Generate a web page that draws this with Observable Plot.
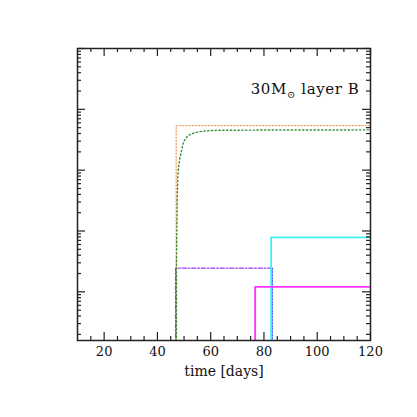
<!DOCTYPE html>
<html><head><meta charset="utf-8">
<script src="https://cdn.jsdelivr.net/npm/d3@7"></script>
<script src="https://cdn.jsdelivr.net/npm/@observablehq/plot@0.6"></script>
<style>body{margin:0;background:#fff;}</style>
</head><body><div id="chart"></div>
<script>
// ---- text ----
const titleText = "30M⊙ layer B";
const xLabel = "time [days]";
// ---- ticks ----
const xTickLabels = [20, 40, 60, 80, 100, 120];
const xMinorTicks = [15, 25, 30, 35, 45, 50, 55, 65, 70, 75, 85, 90, 95, 105, 110, 115];
const yMajorTicks = [1e-4, 1e-3, 1e-2, 1e-1, 1];
const yMinorTicks = [];
for (const p of [-5, -4, -3, -2, -1]) for (const k of [2,3,4,5,6,7,8,9]) {
  const v = k * Math.pow(10, p);
  if (v > Math.pow(10, -4.8) && v < 1) yMinorTicks.push(v);
}
// ---- series (time in days, value arbitrary log units) ----
const orangeT = [47.05, 47.05, 120];
const orangeV = [1e-6, 0.0541, 0.0541];
const greenT = [47.1, 47.17, 47.28, 47.43, 47.65, 47.92, 48.4, 49.0, 49.79, 51.03, 52.31, 54.19, 56.66, 60.42, 62.67, 80, 120];
const greenV = [1e-6, 3.49e-4, 9.02e-4, 3.15e-3, 7.60e-3, 0.0111, 0.0155, 0.0202, 0.0291, 0.0352, 0.0388, 0.0414, 0.0436, 0.0447, 0.0452, 0.0457, 0.0459];
const purpleT = [46.85, 46.85, 83.0];
const purpleV = [1e-6, 2.45e-4, 2.45e-4];
const blueT = [83.1, 83.1];
const blueV = [2.45e-4, 1e-6];
const cyanT = [82.7, 82.7, 120];
const cyanV = [1e-6, 7.83e-4, 7.83e-4];
const magentaT = [76.7, 76.7, 120];
const magentaV = [1e-6, 1.21e-4, 1.21e-4];

const toRows = (T, V) => T.map((t, i) => ({t, v: V[i]}));

const W = 417, H = 417, mL = 77, mR = 47, mT = 48, mB = 77;
const plotH = H - mT - mB, plotW = W - mL - mR;
const axisColor = "#222";

const chart = Plot.plot({
  width: W, height: H,
  marginLeft: mL, marginRight: mR, marginTop: mT, marginBottom: mB,
  style: {fontFamily: "DejaVu Serif", background: "#fff", color: "#111"},
  x: {domain: [10, 120], axis: null},
  y: {type: "log", domain: [Math.pow(10, -4.8), 1], axis: null},
  marks: [
    Plot.line(toRows(orangeT, orangeV), {x: "t", y: "v", stroke: "#f4a46a", strokeWidth: 1.3, strokeDasharray: "1.2,2", clip: true}),
    Plot.line(toRows(purpleT, purpleV), {x: "t", y: "v", stroke: "#9a3cf5", strokeWidth: 1.4, strokeDasharray: "4,2,1.5,2", clip: true}),
    Plot.line(toRows(blueT, blueV), {x: "t", y: "v", stroke: "#3050ff", strokeWidth: 1.3, strokeDasharray: "1.5,1.5", clip: true}),
    Plot.line(toRows(greenT, greenV), {x: "t", y: "v", stroke: "#358f35", strokeWidth: 1.4, strokeDasharray: "1.3,2.5", clip: true}),
    Plot.line(toRows(cyanT, cyanV), {x: "t", y: "v", stroke: "#40f0f0", strokeWidth: 1.8, clip: true}),
    Plot.line(toRows(magentaT, magentaV), {x: "t", y: "v", stroke: "#ff33ff", strokeWidth: 1.8, clip: true}),
    // ticks, inward on all sides
    Plot.ruleX(xTickLabels, {x: d => d, insetTop: plotH - 8, stroke: axisColor, strokeWidth: 1.2}),
    Plot.ruleX(xTickLabels, {x: d => d, insetBottom: plotH - 8, stroke: axisColor, strokeWidth: 1.2}),
    Plot.ruleX(xMinorTicks, {x: d => d, insetTop: plotH - 4, stroke: axisColor, strokeWidth: 1.2}),
    Plot.ruleX(xMinorTicks, {x: d => d, insetBottom: plotH - 4, stroke: axisColor, strokeWidth: 1.2}),
    Plot.ruleY(yMajorTicks, {y: d => d, insetRight: plotW - 8, stroke: axisColor, strokeWidth: 1.2}),
    Plot.ruleY(yMajorTicks, {y: d => d, insetLeft: plotW - 8, stroke: axisColor, strokeWidth: 1.2}),
    Plot.ruleY(yMinorTicks, {y: d => d, insetRight: plotW - 4, stroke: axisColor, strokeWidth: 1.2}),
    Plot.ruleY(yMinorTicks, {y: d => d, insetLeft: plotW - 4, stroke: axisColor, strokeWidth: 1.2}),
    Plot.frame({stroke: axisColor, strokeWidth: 1.5}),
    // tick labels and axis label
    Plot.text(xTickLabels, {x: d => d, frameAnchor: "bottom", dy: 15, fontSize: 13, fill: "#111"}),
    Plot.text([xLabel], {frameAnchor: "bottom", dy: 35, fontSize: 14, fill: "#111"}),
    Plot.text([titleText], {frameAnchor: "top-right", textAnchor: "end", dx: -11, dy: 35, fontSize: 15, fill: "#111"})
  ]
});

// subscript the solar symbol in the title
for (const t of chart.querySelectorAll("text")) {
  if (t.textContent === titleText) {
    const parts = titleText.split("⊙");
    t.textContent = "";
    const ns = "http://www.w3.org/2000/svg";
    const a = document.createElementNS(ns, "tspan"); a.textContent = parts[0];
    const b = document.createElementNS(ns, "tspan"); b.textContent = "⊙"; b.setAttribute("font-size", "10"); b.setAttribute("dy", "4");
    const c = document.createElementNS(ns, "tspan"); c.textContent = parts[1]; c.setAttribute("dy", "-4");
    t.append(a, b, c);
    t.setAttribute("letter-spacing", "0.6");
  }
}
document.getElementById("chart").append(chart);
</script>
</body></html>
